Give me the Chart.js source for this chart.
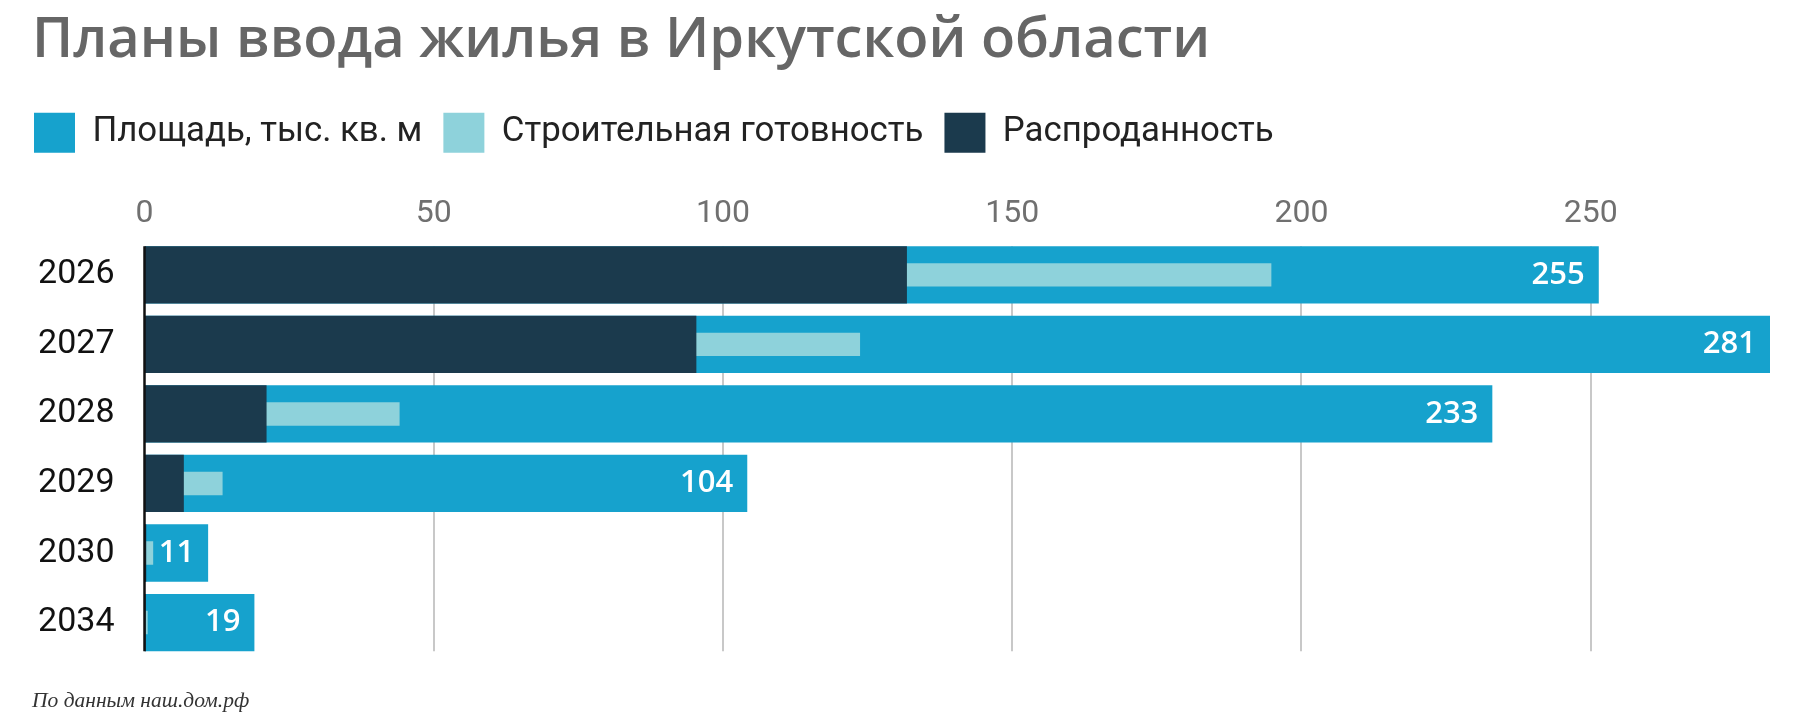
<!DOCTYPE html>
<html>
<head>
<meta charset="utf-8">
<script src="https://cdn.jsdelivr.net/npm/chart.js@4.4.1/dist/chart.umd.min.js"></script>
<style>
  html, body { margin: 0; padding: 0; background: #ffffff; }
  #wrap { position: relative; width: 1800px; height: 718px; }
</style>
</head>
<body>
<div id="wrap"><canvas id="chart"></canvas></div>
<script>
// ---- data ----
const titleText = 'Планы ввода жилья в Иркутской области';
const noteText = 'По данным наш.дом.рф';
const categories = ['2026', '2027', '2028', '2029', '2030', '2034'];
const seriesNames = ['Площадь, тыс. кв. м', 'Строительная готовность', 'Распроданность'];
const areaValues = [251.4, 281, 233, 104.2, 11, 19];
const areaLabels = ['255', '281', '233', '104', '11', '19'];
const readinessValues = [194.8, 123.7, 44.1, 13.5, 1.5, 0.55];
const soldValues = [131.8, 95.4, 21.1, 6.8, 0.3, 0.2];
const axisMin = 0;
const axisMax = 281;
const tickStep = 50;

const COLORS = { area: '#16a2cd', readiness: '#8ed2db', sold: '#1b3a4d' };

// gridlines + axis line spanning the bars only
const gridPlugin = {
  id: 'barGrid',
  beforeDatasetsDraw(chart) {
    const meta = chart.getDatasetMeta(0);
    if (!meta.data.length) return;
    const first = meta.data[0].getProps(['y', 'height'], true);
    const last = meta.data[meta.data.length - 1].getProps(['y', 'height'], true);
    const top = first.y - first.height / 2;
    const bottom = last.y + last.height / 2;
    const xs = chart.scales.x;
    const ctx = chart.ctx;
    ctx.save();
    ctx.strokeStyle = '#c8c8c8';
    ctx.lineWidth = 2;
    xs.ticks.forEach(t => {
      if (t.value <= 0) return;
      const px = Math.round(xs.getPixelForValue(t.value));
      ctx.beginPath();
      ctx.moveTo(px, top);
      ctx.lineTo(px, bottom);
      ctx.stroke();
    });
    ctx.restore();
  },
  afterDatasetsDraw(chart) {
    const meta = chart.getDatasetMeta(0);
    const first = meta.data[0].getProps(['y', 'height'], true);
    const last = meta.data[meta.data.length - 1].getProps(['y', 'height'], true);
    const top = first.y - first.height / 2;
    const bottom = last.y + last.height / 2;
    const px = chart.scales.x.getPixelForValue(0);
    const ctx = chart.ctx;
    ctx.save();
    ctx.strokeStyle = '#111111';
    ctx.lineWidth = 2.5;
    ctx.beginPath();
    ctx.moveTo(px, top);
    ctx.lineTo(px, bottom);
    ctx.stroke();
    // value labels inside the end of the area bars
    ctx.fillStyle = '#ffffff';
    ctx.font = '600 31px "Open Sans"';
    ctx.textAlign = 'right';
    ctx.textBaseline = 'middle';
    meta.data.forEach((el, i) => {
      const p = el.getProps(['x', 'y'], true);
      ctx.fillText(areaLabels[i], p.x - 14, p.y);
    });
    ctx.restore();
  }
};

// shift legend so its boxes start at the page margin
const legendShift = {
  id: 'legendShift',
  afterLayout(chart) {
    if (chart.legend) {
      chart.legend.left -= 19;
      chart.legend.right -= 19;
    }
  }
};

function build() {
  const ctx = document.getElementById('chart');
  new Chart(ctx, {
    type: 'bar',
    data: {
      labels: categories,
      datasets: [
        {
          label: seriesNames[0], data: areaValues, backgroundColor: COLORS.area,
          borderWidth: 0, grouped: false, order: 3,
          barPercentage: 0.824, categoryPercentage: 1
        },
        {
          label: seriesNames[1], data: readinessValues, backgroundColor: COLORS.readiness,
          borderWidth: 0, grouped: false, order: 2,
          barPercentage: 0.337, categoryPercentage: 1
        },
        {
          label: seriesNames[2], data: soldValues, backgroundColor: COLORS.sold,
          borderWidth: 0, grouped: false, order: 1,
          barPercentage: 0.824, categoryPercentage: 1
        }
      ]
    },
    options: {
      indexAxis: 'y',
      responsive: true,
      maintainAspectRatio: false,
      animation: false,
      layout: { padding: { top: 0, left: 32, right: 30, bottom: 0 } },
      scales: {
        x: {
          position: 'top',
          min: axisMin,
          max: axisMax,
          grid: { display: false, drawTicks: false },
          border: { display: false },
          afterBuildTicks(scale) {
            scale.ticks = scale.ticks.filter(t => t.value % tickStep === 0);
          },
          afterFit(scale) { scale.height = 77.4; },
          ticks: {
            stepSize: tickStep,
            padding: 7.4,
            color: '#707070',
            font: { family: 'Roboto', size: 32 },
            maxRotation: 0
          }
        },
        y: {
          grid: { display: false, drawTicks: false },
          border: { display: false },
          afterFit(scale) { scale.width = 112.5; },
          ticks: {
            padding: 30,
            color: '#111111',
            font: { family: 'Roboto', size: 34 },
            crossAlign: 'near'
          }
        }
      },
      plugins: {
        title: {
          display: true,
          text: titleText,
          align: 'start',
          color: '#666666',
          font: { family: 'Open Sans', weight: '600', size: 56 },
          padding: { top: 7.8, bottom: 16.7 }
        },
        subtitle: {
          display: true,
          text: noteText,
          position: 'bottom',
          align: 'start',
          color: '#333333',
          font: { family: 'Liberation Serif', style: 'italic', size: 21.5 },
          padding: { top: 31.5, bottom: 3.4 }
        },
        legend: {
          display: true,
          position: 'top',
          align: 'start',
          labels: {
            boxWidth: 41,
            boxHeight: 40,
            padding: 21,
            color: '#222222',
            font: { family: 'Roboto', size: 34.8 },
            sort: (a, b) => a.datasetIndex - b.datasetIndex
          }
        },
        tooltip: { enabled: false }
      }
    },
    plugins: [gridPlugin, legendShift]
  });
}

const fontLoads = [
  '600 56px "Open Sans"', '600 31px "Open Sans"', '32px Roboto', 'italic 21px "Liberation Serif"'
].map(f => document.fonts.load(f).catch(() => null));
Promise.all(fontLoads).then(build, build);
</script>
</body>
</html>
